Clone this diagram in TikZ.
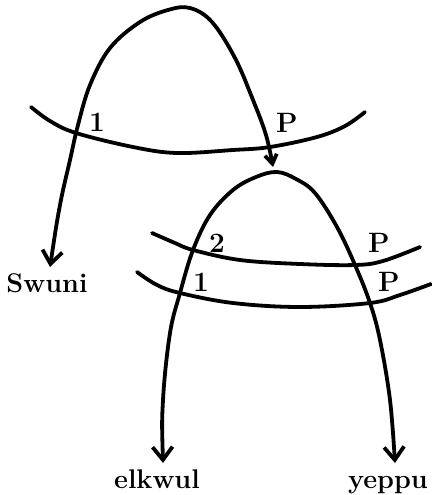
\documentclass[tikz,border=0pt]{standalone}
\usepackage{fontspec}
\usetikzlibrary{arrows.meta}
\begin{document}
\begin{tikzpicture}[x=1pt,y=-1pt,
  line/.style={line width=3.8pt,line cap=round,line join=round},
  arch/.style={line,{Straight Barb[length=13pt,width=20pt]}-{Straight Barb[length=13pt,width=20pt]}},
  archone/.style={line,{Straight Barb[length=13pt,width=20pt]}-{Straight Barb[length=9pt,width=12pt]}},
  word/.style={font=\fontsize{27}{31}\selectfont\bfseries,inner sep=0pt,anchor=base},
  tag/.style={font=\fontsize{28}{32}\selectfont\bfseries,inner sep=0pt}]
\useasboundingbox (0,0) rectangle (431,495);
% named end points
\coordinate (t1) at (50,267);
\coordinate (t2) at (273,167);
\coordinate (t3) at (163,463);
\coordinate (t4) at (395,463);
% words
\node[word] (swuni) at (47,292) {Swuni};
\node[word] (elkwul) at (157,488) {elkwul};
\node[word] (yeppu) at (388,488) {yeppu};
% upper arch
\draw[archone] plot[smooth,tension=0.6] coordinates {(t1) (60,205) (70,160) (78,125) (90,85) (110,48) (140,22) (168,10) (190,8) (212,22) (235,58) (253,100) (266,135) (t2)};
% lower arch
\draw[arch] plot[smooth,tension=0.6] coordinates {(t3) (163,400) (170,333) (180,293) (193,250) (210,215) (233,190) (256,177) (277,172) (296,179) (315,193) (337,227) (355,265) (370,303) (380,340) (390,400) (t4)};
% bands
\draw[line] plot[smooth,tension=0.6] coordinates {(31,107) (50,121) (76,133) (133,147) (177,153) (233,150) (270,147) (317,137) (345,126) (365,112)};
\draw[line] plot[smooth,tension=0.6] coordinates {(152,233) (175,243) (193,250) (240,260) (300,264) (355,265) (383,261) (420,247)};
\draw[line] plot[smooth,tension=0.6] coordinates {(137,272) (157,285) (180,293) (233,303) (300,307) (370,303) (400,295) (431,284)};
% tags
\node[tag] (m1) at (97,122) {1};
\node[tag] (m2) at (287,123) {P};
\node[tag] (m3) at (217,243) {2};
\node[tag] (m4) at (379,243) {P};
\node[tag] (m5) at (201,282) {1};
\node[tag] (m6) at (389,282) {P};
\end{tikzpicture}
\end{document}
